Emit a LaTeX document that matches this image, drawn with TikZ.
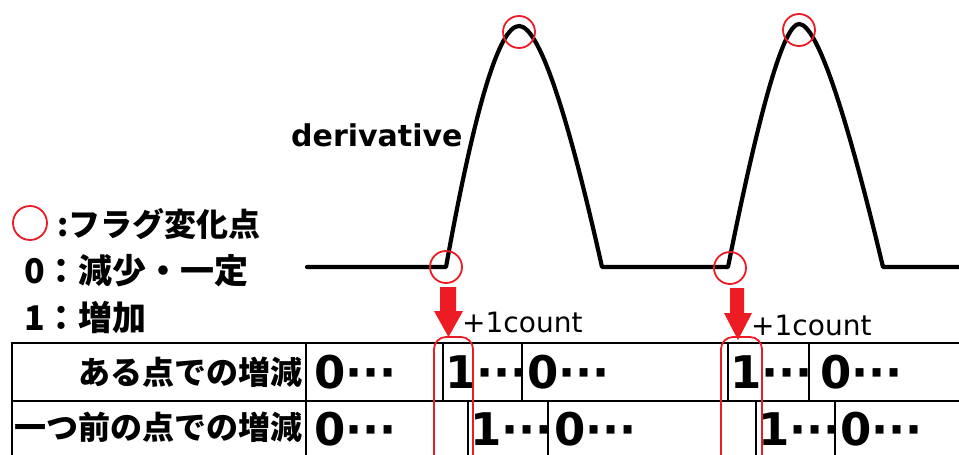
\documentclass[tikz,border=0pt]{standalone}
\usepackage{fontspec}
\newfontfamily\jp{Noto Sans CJK JP}
\newfontfamily\dv{DejaVu Sans}
\definecolor{pred}{RGB}{237,28,36}
\begin{document}
\begin{tikzpicture}[x=1pt,y=-1pt,
  curve/.style={line width=4.2pt,line cap=round,line join=round},
  gridline/.style={line width=1.8pt},
  flagcirc/.style={draw=pred,line width=1.8pt,circle,minimum size=32pt,inner sep=0pt},
  countbox/.style={draw=pred,line width=1.8pt,rounded corners=12pt,inner sep=0pt},
  jptext/.style={font=\jp\bfseries\fontsize{32}{32}\selectfont,inner sep=0pt},
  legtext/.style={font=\jp\bfseries\fontsize{34}{34}\selectfont,inner sep=0pt,anchor=west},
  val/.style={font=\dv\bfseries\fontsize{45}{45}\selectfont,inner sep=0pt,anchor=base west},
  cnt/.style={font=\dv\fontsize{28}{28}\selectfont,inner sep=0pt,anchor=west},
  drv/.style={font=\dv\bfseries\fontsize{30}{30}\selectfont,inner sep=0pt,anchor=base west}
]
\clip (0,0) rectangle (959,455);
\fill[white] (0,0) rectangle (959,455);

% derivative curve
\draw[curve] (307,267) -- (446,267)
  .. controls (475.1,105.7) and (499.4,26) .. (519,26)
  .. controls (538.2,26) and (565.9,105.7) .. (602,267)
  -- (728,267)
  .. controls (760.5,104.3) and (784.2,24) .. (799,24)
  .. controls (816.1,24) and (844.1,104.3) .. (883,267)
  -- (965,267);

\node[drv] (dlabel) at (291,146) {derivative};

% flag change circles
\node[flagcirc] (c1) at (446,267) {};
\node[flagcirc] (p1) at (519,32) {};
\node[flagcirc] (c2) at (730,268) {};
\node[flagcirc] (p2) at (799,30) {};

% legend
\node[flagcirc,minimum size=34pt] (lc) at (30,223) {};
\node[legtext,font=\jp\bfseries\fontsize{32}{32}\selectfont] (l1) at (57,224) {:フラグ変化点};
\node[legtext] (l2) at (24,271) {0：減少・一定};
\node[legtext] (l3) at (24,317) {1：増加};

% table
\draw[gridline] (12,460) -- (12,343) -- (965,343);
\draw[gridline] (12,401) -- (965,401);
\draw[gridline] (306,343) -- (306,460);
\foreach \x in {443,522,728,809} \draw[gridline] (\x,343) -- (\x,401);
\foreach \x in {468,548,756,835} \draw[gridline] (\x,401) -- (\x,460);

\node[jptext,anchor=east] (r1) at (303,372) {ある点での増減};
\node[jptext,anchor=east] (r2) at (303,427) {一つ前の点での増減};

\node[val] (a1) at (314,388) {0···};
\node[val] (a2) at (445,388) {1···};
\node[val] (a3) at (527,388) {0···};
\node[val] (a4) at (730,388) {1···};
\node[val] (a5) at (820,388) {0···};
\node[val] (b1) at (314,445) {0···};
\node[val] (b2) at (470,445) {1···};
\node[val] (b3) at (554,445) {0···};
\node[val] (b4) at (758,445) {1···};
\node[val] (b5) at (840,445) {0···};

% red boxes
\node[countbox,minimum width=39pt,minimum height=140pt] (k1) at (453.5,407) {};
\node[countbox,minimum width=41pt,minimum height=140pt] (k2) at (741.5,407) {};

% red block arrows
\fill[pred] (440,287) -- (456,287) -- (456,311) -- (463,311) -- (448.5,337) -- (434,311) -- (440,311) -- cycle;
\fill[pred] (730,288) -- (744,288) -- (744,313) -- (752,313) -- (738,340) -- (724,313) -- (730,313) -- cycle;

\node[cnt] (n1) at (462,322) {+1count};
\node[cnt] (n2) at (751,325) {+1count};
\end{tikzpicture}
\end{document}
